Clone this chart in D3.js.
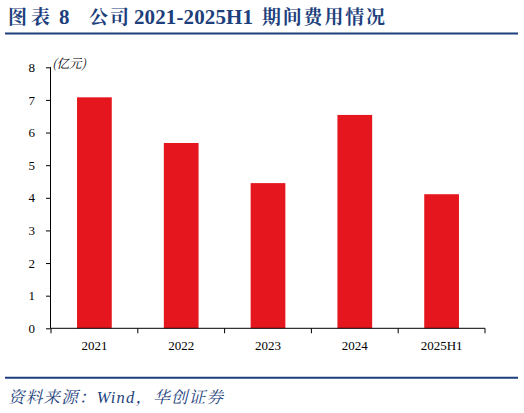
<!DOCTYPE html>
<html><head><meta charset="utf-8">
<script src="https://cdn.jsdelivr.net/npm/d3@7"></script>
<style>body{margin:0;background:#fff}svg{display:block}</style>
</head><body>
<script>
const categories = ["2021","2022","2023","2024","2025H1"];
const values = [7.08, 5.68, 4.45, 6.54, 4.11];
const yTicks = [0,1,2,3,4,5,6,7,8];
const titleParts = ["图表", "8", "公司", "2021-2025H1", "期间费用情况"];
const unitText = "(亿元)";
const sourceText = "资料来源：Wind，华创证券";

const W = 524, H = 413;
const svg = d3.select("body").append("svg").attr("width", W).attr("height", H);
const serif = "'Liberation Serif','Times New Roman','Noto Serif CJK SC','Noto Sans CJK SC',serif";
const navy = "#1d3f7c";

const titleLayout = [
  {x: 8, w: 42, fs: 19}, {x: 59, w: 10, fs: 21}, {x: 89, w: 40, fs: 19},
  {x: 134, w: 119, fs: 21}, {x: 262, w: 123, fs: 19}
];
svg.append("g").selectAll("text").data(titleParts).join("text")
  .attr("x", (d,i) => titleLayout[i].x).attr("y", 24)
  .attr("textLength", (d,i) => titleLayout[i].w).attr("lengthAdjust", "spacing")
  .attr("font-family", serif).attr("font-weight", "bold")
  .attr("font-size", (d,i) => titleLayout[i].fs)
  .attr("fill", navy).text(d => d);
svg.append("line").attr("x1", 5).attr("x2", 518).attr("y1", 33.5).attr("y2", 33.5)
  .attr("stroke", navy).attr("stroke-width", 2.2);

const x0 = 51, x1 = 485, yTop = 67.3, yBot = 328.3;
const x = d3.scaleBand().domain(categories).range([x0, x1]).paddingInner(0.6).paddingOuter(0.3);
const y = d3.scaleLinear().domain([0, 8]).range([yBot, yTop]);

svg.append("g").selectAll("rect").data(values).join("rect")
  .attr("x", (d,i) => x(categories[i])).attr("width", x.bandwidth())
  .attr("y", d => y(d)).attr("height", d => y(0) - y(d))
  .attr("fill", "#e5161e");

const ya = svg.append("g").attr("transform", `translate(${x0},0)`)
  .call(d3.axisLeft(y).tickValues(yTicks).tickSize(5).tickPadding(11).tickFormat(d3.format("d")));
ya.select(".domain").attr("d", `M-0.5,${yBot}V${yTop}`).attr("stroke", "#000");
ya.selectAll("text").attr("font-family", serif).attr("font-size", 13).attr("fill", "#000");

const xb = d3.scaleLinear().domain([0, categories.length]).range([x0, x1]);
const xa = svg.append("g").attr("transform", `translate(0,${yBot})`);
xa.append("line").attr("x1", x0).attr("x2", x1).attr("stroke", "#000");
xa.selectAll("line.t").data(d3.range(categories.length + 1)).join("line").attr("class","t")
  .attr("x1", i => xb(i)).attr("x2", i => xb(i)).attr("y1", 0).attr("y2", 5).attr("stroke", "#000");
xa.selectAll("text").data(categories).join("text")
  .attr("x", d => x(d) + x.bandwidth()/2).attr("y", 22)
  .attr("text-anchor", "middle").attr("font-family", serif).attr("font-size", 13).text(d => d);

svg.append("text").attr("x", 52).attr("y", 68)
  .attr("font-family", "'Noto Serif CJK SC','Noto Sans CJK SC',serif").attr("font-style","italic")
  .attr("font-size", 12.5).attr("fill", "#000").text(unitText);

svg.append("line").attr("x1", 5).attr("x2", 518).attr("y1", 377.7).attr("y2", 377.7)
  .attr("stroke", navy).attr("stroke-width", 2);
svg.append("text").attr("x", 8).attr("y", 403)
  .attr("textLength", 215).attr("lengthAdjust", "spacing")
  .attr("font-family", serif).attr("font-style", "italic").attr("font-size", 16.5)
  .attr("fill", navy).text(sourceText);
</script>
</body></html>
